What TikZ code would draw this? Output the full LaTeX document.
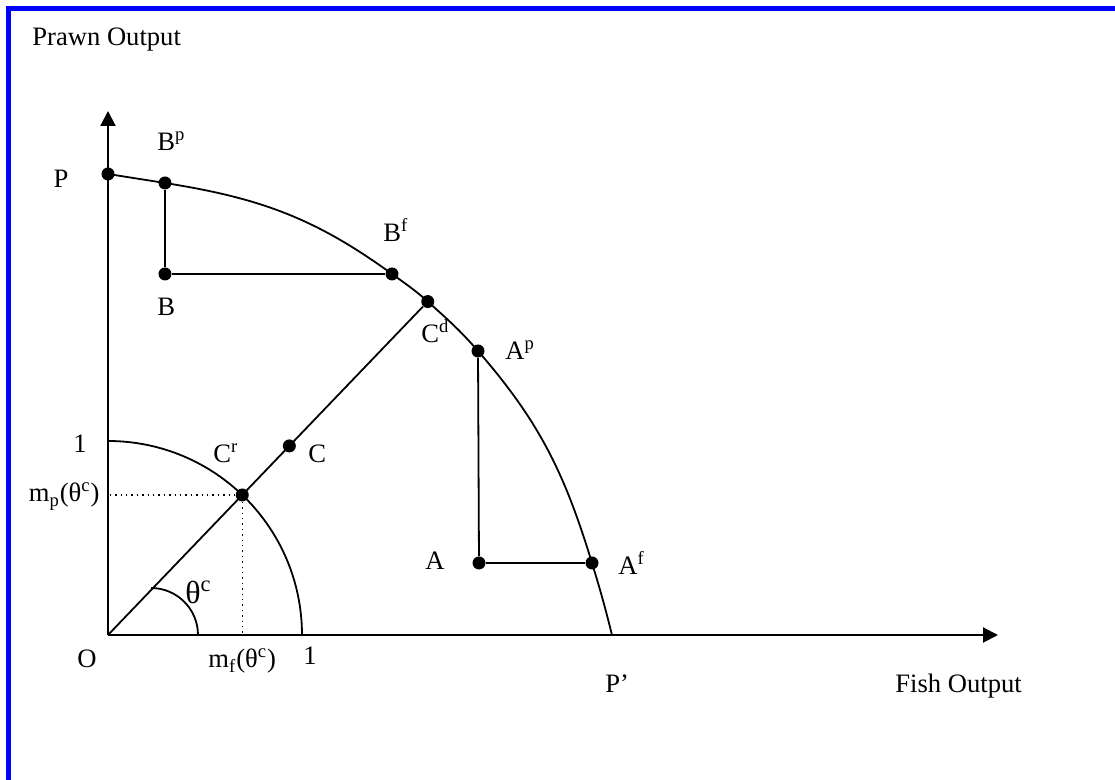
\documentclass[tikz,border=0pt]{standalone}
\usepackage{fontspec}
\setmainfont{Liberation Serif}
\usetikzlibrary{arrows.meta}

\begin{document}
\begin{tikzpicture}[>={Triangle[length=7.5pt,width=7.5pt]}, x=0.5pt, y=0.5pt]

% --- Stijlen ---
\tikzset{
    punt/.style={
        circle,
        fill=black,
        inner sep=0pt,
        minimum size=6.5pt
    },
    as/.style={
        ->,
        line width=1pt
    },
    lijn/.style={line width=0.9pt},
    stippel/.style={dotted, line width=0.7pt},
    letter/.style={
        font=\fontsize{13.3}{16}\selectfont,
        inner sep=0pt,
        anchor=base west
    },
    kader/.style={draw=blue, line width=2.5pt}
}

\useasboundingbox (-108,-145) rectangle (1007,635);

% --- Kader ---
\draw[kader] (-99,-145) -- (-99,626.5) -- (1007,626.5);

% --- Assen ---
\coordinate (O) at (0,0);
\coordinate (ytop) at (0,524);
\coordinate (xend) at (890,0);
\draw[as] (O) -- (ytop);
\draw[as] (O) -- (xend);

% --- Punten ---
\node[punt] (P)  at (0,461)   {};
\node[punt] (Bp) at (57,452)  {};
\node[punt] (Bf) at (284,361) {};
\node[punt] (B)  at (57,361)  {};
\node[punt] (Cd) at (46.2:462) {};
\node[punt] (C)  at (46.2:262) {};
\node[punt] (Cr) at (46.2:194) {};
\node[punt] (Ap) at (370,284) {};
\node[punt] (A)  at (371,72)  {};
\node[punt] (Af) at (484,72)  {};
\coordinate (Pq) at (504,0);
\coordinate (een) at (0,194);
\coordinate (hk) at (43,47);

% --- Lijnen ---
\draw[lijn] (P.center) -- (Bp.center)
    to[out=-9, in=144] (Bf.center)
    to[out=-36, in=138] (Cd.center)
    to[out=-42, in=131] (Ap.center)
    to[out=-49, in=107] (Af.center)
    to[out=-73, in=104] (Pq);
\draw[lijn] (O) -- (Cd);
\draw[lijn] (Bp) -- (B) -- (Bf);
\draw[lijn] (Ap) -- (A) -- (Af);
\draw[lijn] (een) arc[start angle=90, end angle=0, radius=194];
\draw[lijn] (hk) arc[start angle=90, end angle=0, radius=47];
\draw[stippel] (Cr) -- (Cr |- O);
\draw[stippel] (Cr) -- (Cr -| O);

% --- Labels ---
\node[letter] (tprawn) at (-76,589) {Prawn Output};
\node[letter] (tfish) at (787,-58) {Fish Output};
\node[letter, anchor=base] (tP) at (-47,447) {P};
\node[letter] (tBp) at (49,484) {B\textsuperscript{p}};
\node[letter] (tBf) at (275,393) {B\textsuperscript{f}};
\node[letter] (tB) at (49,319) {B};
\node[letter] (tCd) at (313,292) {C\textsuperscript{d}};
\node[letter] (tAp) at (397,275) {A\textsuperscript{p}};
\node[letter, anchor=base] (teen) at (-28,182) {1};
\node[letter] (tCr) at (105,172) {C\textsuperscript{r}};
\node[letter] (tC) at (200,172) {C};
\node[letter, anchor=base east] (tmp) at (-8,133) {m\textsubscript{p}(θ\textsuperscript{c})};
\node[letter, font=\fontsize{16}{19}\selectfont] (ttheta) at (77,31) {θ\textsuperscript{c}};
\node[letter] (tA) at (317,65) {A};
\node[letter] (tAf) at (510,60) {A\textsuperscript{f}};
\node[letter, anchor=base] (tO) at (-21,-33) {O};
\node[letter] (tmf) at (100,-33) {m\textsubscript{f}(θ\textsuperscript{c})};
\node[letter, anchor=base] (teen2) at (202,-30) {1};
\node[letter] (tPq) at (497,-58) {P’};
\end{tikzpicture}
\end{document}
